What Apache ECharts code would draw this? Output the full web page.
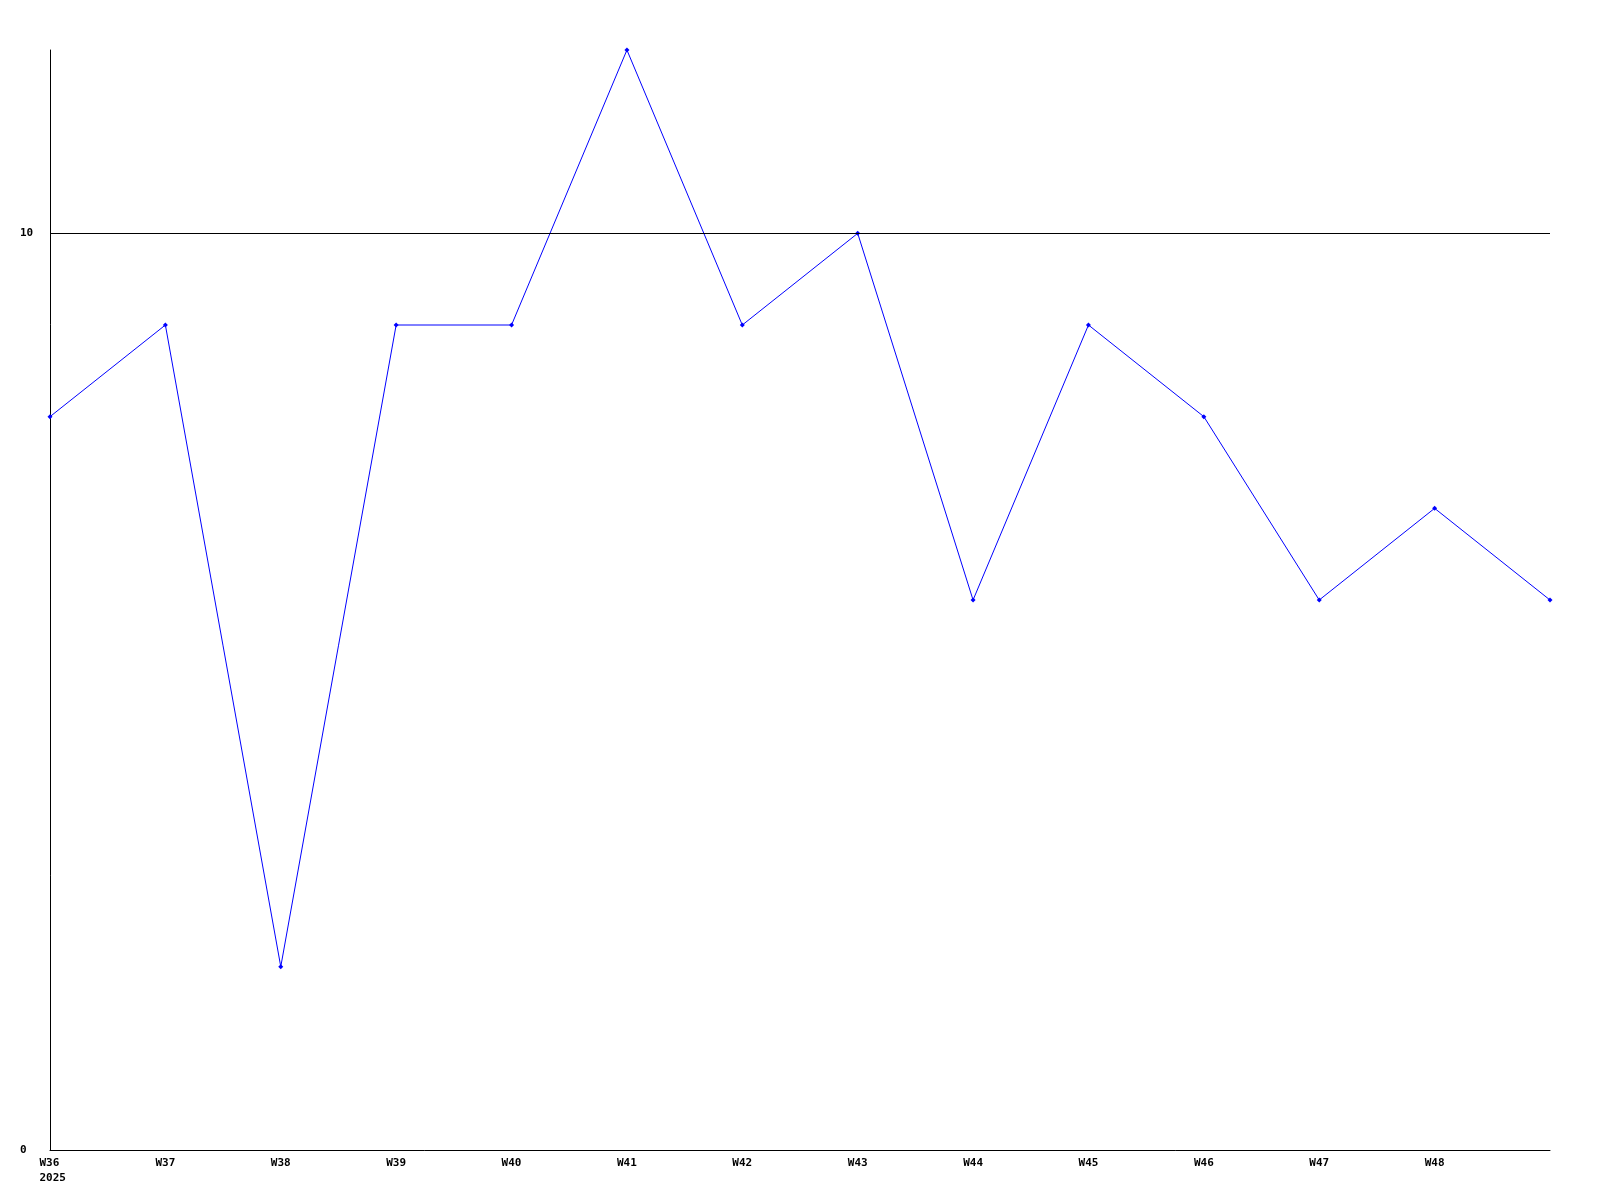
<!DOCTYPE html>
<html>
<head>
<meta charset="utf-8">
<title>Weekly chart</title>
<script src="https://cdn.jsdelivr.net/npm/echarts@6/dist/echarts.min.js"></script>
<style>
    html, body { margin: 0; padding: 0; background: #fff; }
    #container { width: 1600px; height: 1200px; }
</style>
</head>
<body>
<div id="container"></div>
<script>
    // weeks on the x axis (last one has no label in the original)
    var weeks = ['W36', 'W37', 'W38', 'W39', 'W40', 'W41', 'W42', 'W43', 'W44', 'W45', 'W46', 'W47', 'W48', 'W49'];
    var values = [8, 9, 2, 9, 9, 12, 9, 10, 6, 9, 8, 6, 7, 6];
    var yearLabel = '2025';
    var refLine = 10;

    var myChart = echarts.init(document.getElementById('container'));

    var labelFont = {
        fontFamily: 'DejaVu Sans Mono',
        fontWeight: 'bold',
        fontSize: 11,
        color: '#000'
    };

    var option = {
        animation: false,
        backgroundColor: '#fff',
        grid: {
            left: 50,
            right: 50,
            top: 50,
            bottom: 50
        },
        xAxis: {
            type: 'category',
            boundaryGap: false,
            data: weeks,
            axisLine: { lineStyle: { color: '#000', width: 1 } },
            axisTick: { show: false },
            axisLabel: Object.assign({
                interval: 0,
                margin: 6,
                lineHeight: 15,
                formatter: function (v, i) {
                    if (i === 0) return '{f|' + v + '}\n{f|' + yearLabel + '}';
                    if (i === weeks.length - 1) return '';
                    return v;
                },
                rich: {
                    f: Object.assign({ width: 21, align: 'left', lineHeight: 15 }, labelFont)
                }
            }, labelFont),
            splitLine: { show: false }
        },
        yAxis: {
            type: 'value',
            min: 0,
            max: 12,
            interval: 10,
            axisLine: { show: true, lineStyle: { color: '#000', width: 1 } },
            axisTick: { show: false },
            axisLabel: Object.assign({
                align: 'left',
                margin: 30,
                showMaxLabel: false
            }, labelFont),
            splitLine: { show: false }
        },
        series: [{
            type: 'line',
            data: values,
            symbol: 'diamond',
            symbolSize: 5,
            color: '#0000ff',
            lineStyle: { color: '#0000ff', width: 1 },
            itemStyle: { color: '#0000ff' },
            markLine: {
                silent: true,
                symbol: 'none',
                label: { show: false },
                lineStyle: { color: '#000', width: 1, type: 'solid' },
                data: [{ yAxis: refLine }]
            }
        }]
    };

    myChart.setOption(option);
</script>
</body>
</html>
